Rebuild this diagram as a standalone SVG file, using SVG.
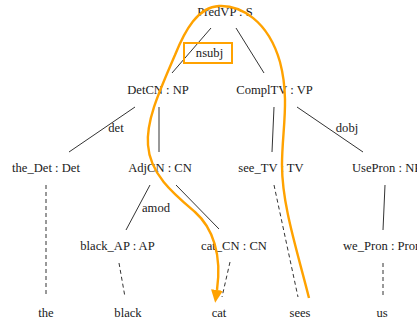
<svg xmlns="http://www.w3.org/2000/svg" width="417" height="322" viewBox="0 0 417 322">
  <style>
    text { font-family: "Liberation Serif", "Times New Roman", serif; font-size: 12.6px; fill: #1a1a1a; text-anchor: middle; }
    .edge { stroke: #333; stroke-width: 1; fill: none; }
    .leaf { stroke: #333; stroke-width: 1; fill: none; stroke-dasharray: 4 3; }
    .hl { stroke: #ffa200; fill: none; }
  </style>
  <defs>
    <marker id="arrow" markerUnits="userSpaceOnUse" markerWidth="13" markerHeight="12" refX="0" refY="6" orient="auto">
      <path d="M0,0 L13,6 L0,12 z" fill="#ffa200"/>
    </marker>
  </defs>
  <rect width="417" height="322" fill="#fff"/>

  <!-- tree edges -->
  <g id="edges">
    <line class="edge" x1="211" y1="28" x2="172" y2="73"/>
    <line class="edge" x1="236" y1="28" x2="264" y2="73"/>
    <line class="edge" x1="135" y1="107" x2="69" y2="152"/>
    <line class="edge" x1="159" y1="107" x2="159" y2="152"/>
    <line class="edge" x1="274" y1="107" x2="272" y2="152"/>
    <line class="edge" x1="297" y1="107" x2="363" y2="152"/>
    <line class="edge" x1="150" y1="185" x2="126" y2="230"/>
    <line class="edge" x1="176" y1="185" x2="219" y2="229"/>
    <line class="edge" x1="385" y1="185" x2="383" y2="230"/>
    <line class="leaf" x1="46" y1="185" x2="46" y2="297"/>
    <line class="leaf" x1="119" y1="263" x2="125" y2="297"/>
    <line class="leaf" x1="230" y1="262" x2="222" y2="297"/>
    <line class="leaf" x1="274" y1="185" x2="298" y2="297"/>
    <line class="leaf" x1="383" y1="263" x2="383" y2="297"/>
    <text x="116" y="132">det</text>
    <text x="347" y="132">dobj</text>
    <text x="142" y="212" style="text-anchor:start">amod</text>
  </g>

  <!-- tree nodes -->
  <g id="n-predvp"><text x="225" y="16">PredVP : S</text></g>
  <g id="n-detcn"><text x="158" y="94">DetCN : NP</text></g>
  <g id="n-compltv"><text x="274.5" y="94">ComplTV : VP</text></g>
  <g id="n-thedet"><text x="46" y="172">the_Det : Det</text></g>
  <g id="n-adjcn"><text x="160" y="172">AdjCN : CN</text></g>
  <g id="n-seetv"><text x="271" y="172">see_TV : TV</text></g>
  <g id="n-usepron"><text x="352" y="172" style="text-anchor:start">UsePron : NP</text></g>
  <g id="n-blackap"><text x="117.5" y="250">black_AP : AP</text></g>
  <g id="n-catcn"><text x="234" y="250">cat_CN : CN</text></g>
  <g id="n-wepron"><text x="343" y="250" style="text-anchor:start">we_Pron : Pron</text></g>
  <g id="w-the"><text x="46" y="317">the</text></g>
  <g id="w-black"><text x="128" y="317">black</text></g>
  <g id="w-cat"><text x="219" y="317">cat</text></g>
  <g id="w-sees"><text x="300" y="317">sees</text></g>
  <g id="w-us"><text x="382" y="317">us</text></g>

  <!-- highlighted relation -->
  <g id="highlight">
    <rect class="hl" x="184" y="43" width="48" height="20" stroke-width="2"/>
    <text x="209.5" y="57">nsubj</text>
    <path class="hl" stroke-width="2.4" marker-end="url(#arrow)"
      d="M309 298 C297 250 282 205 282 165 C282 130 290 100 280 62 C268 20 240 5 219 6 C198 7 185 30 175 55 C160 90 146 120 148 145 C150 175 175 195 195 212 C213 228 222 255 217 290"/>
  </g>
</svg>
